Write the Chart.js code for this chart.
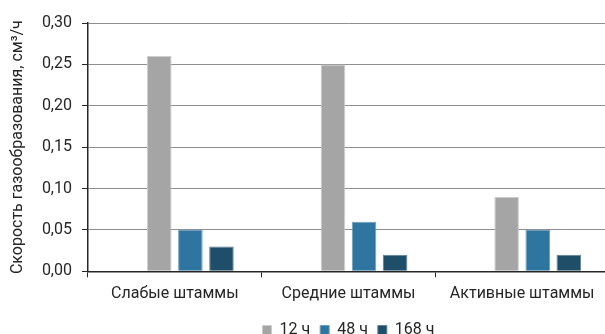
<!DOCTYPE html>
<html lang="ru">
<head>
<meta charset="utf-8">
<title>Скорость газообразования</title>
<script src="https://cdn.jsdelivr.net/npm/chart.js@4/dist/chart.umd.min.js"></script>
<style>
  html, body { margin: 0; padding: 0; background: #fff; overflow: hidden; }
  #wrap { width: 605px; height: 334px; overflow: hidden; }
  canvas { display: block; }
</style>
</head>
<body>
<div id="wrap"><canvas id="chart" width="612" height="334"></canvas></div>
<script>
// Strain groups on the category axis
const categories = ['Слабые штаммы', 'Средние штаммы', 'Активные штаммы'];

// Gas evolution rate, cm³/h, after each incubation time
const series12h  = [0.26, 0.25, 0.09];
const series48h  = [0.05, 0.06, 0.05];
const series168h = [0.03, 0.02, 0.02];

// Series names shown in the legend
const seriesNames = ['12 ч', '48 ч', '168 ч'];

// Value axis labels (decimal comma)
const yTickLabels = ['0,00', '0,05', '0,10', '0,15', '0,20', '0,25', '0,30'];

const yTitle = 'Скорость газообразования, см³/ч';

const textColor = '#262626';
const axisColor = '#262626';
const gridColor = '#8e8e8e';
const font = { family: 'Roboto', size: 16 };

const data = {
  labels: categories,
  datasets: [
    // reserved (empty) first slot in every group
    { label: '', data: [null, null, null], backgroundColor: 'rgba(0,0,0,0)' },
    { label: seriesNames[0], data: series12h,  backgroundColor: '#A5A5A5', borderColor: '#CDCDCD', borderWidth: 1 },
    { label: seriesNames[1], data: series48h,  backgroundColor: '#2E75A0', borderColor: '#6E9FBE', borderWidth: 1 },
    { label: seriesNames[2], data: series168h, backgroundColor: '#1F4E68', borderColor: '#5F8096', borderWidth: 1 }
  ]
};

new Chart(document.getElementById('chart'), {
  type: 'bar',
  data,
  options: {
    responsive: false,
    devicePixelRatio: 1,
    animation: false,
    categoryPercentage: 0.716,
    barPercentage: 0.79,
    layout: { padding: { top: 23, right: 3, left: 0, bottom: -14 } },
    plugins: {
      tooltip: { enabled: false },
      legend: {
        position: 'bottom',
        fullSize: false,
        labels: {
          color: textColor,
          font,
          boxWidth: 9,
          boxHeight: 9,
          padding: 10,
          filter: (item) => item.text !== ''
        }
      }
    },
    scales: {
      x: {
        grid: {
          display: true,
          offset: true,
          drawOnChartArea: false,
          tickColor: axisColor,
          tickLength: 6
        },
        border: { color: axisColor, width: 1.5 },
        ticks: { color: textColor, font, padding: 7, maxRotation: 0 },
        afterFit: (scale) => { scale.height = 40.7; }
      },
      y: {
        min: 0,
        max: 0.3,
        grid: {
          color: gridColor,
          lineWidth: 1,
          tickColor: axisColor,
          tickLength: 6
        },
        border: { color: axisColor, width: 1.5 },
        ticks: {
          stepSize: 0.05,
          color: textColor,
          font,
          padding: 10,
          callback: (v, i) => yTickLabels[i]
        },
        title: {
          display: true,
          text: yTitle,
          color: textColor,
          font,
          padding: { top: 8, bottom: 0 }
        },
        afterFit: (scale) => { scale.width = 88; }
      }
    }
  }
});
</script>
</body>
</html>
